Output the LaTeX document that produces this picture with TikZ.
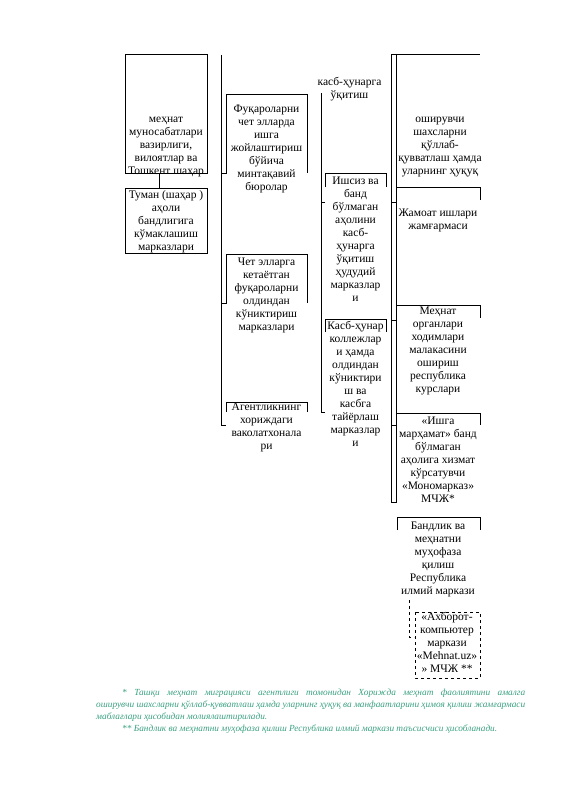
\documentclass[tikz,border=0pt]{standalone}
\usepackage{fontspec}
\setmainfont{Liberation Serif}
\definecolor{notegreen}{HTML}{3AA080}
\tikzset{
  boxtext/.style={anchor=north,align=center,inner sep=0pt,font=\fontsize{11.5}{13}\selectfont},
  frame/.style={line width=0.8pt},
}

\begin{document}
\begin{tikzpicture}[x=1pt,y=-1pt]
        \useasboundingbox (0,0) rectangle (565,800);

        \draw[frame] (125,54) rectangle (207,173);
        \node[boxtext] (ministry) at (166,116.5) {меҳнат\\муносабатлари\\вазирлиги,\\вилоятлар ва\\Тошкент шаҳар};
        \coordinate (ministrybot) at (159,173);
        \coordinate (districttop) at (159,188);
        \draw[frame] (ministrybot) -- (districttop);
        \draw[frame] (125,188) rectangle (207,253);
        \node[boxtext] (district) at (166,190) {Туман (шаҳар )\\аҳоли\\бандлигига\\кўмаклашиш\\марказлари};

        \draw[frame] (221,55) -- (221,425) -- (226,425);
        \draw[frame] (221,173) -- (226,173) -- (226,94) -- (307,94) -- (307,173);
        \draw[frame] (221,303) -- (226,303) -- (226,254) -- (307,254) -- (307,303);
        \draw[frame] (226,412) -- (226,402) -- (307,402) -- (307,412);
        \node[boxtext] (bureaus) at (266.5,104.5) {Фуқароларни\\чет элларда\\ишга\\жойлаштириш\\бўйича\\минтақавий\\бюролар};
        \node[boxtext] (prepcentres) at (266.5,257.5) {Чет элларга\\кетаётган\\фуқароларни\\олдиндан\\кўниктириш\\марказлари};
        \node[boxtext] (agencyabroad) at (266.5,402.5) {Агентликнинг\\хориждаги\\ваколатхонала\\ри};

        \node[boxtext] (training) at (349.5,77.5) {касб-ҳунарга\\ўқитиш};
        \draw[frame] (321,93) -- (321,412) -- (325,412);
        \draw[frame] (321,202) -- (325,202);
        \draw[frame] (325,187) -- (325,173) -- (386,173) -- (386,187);
        \draw[frame] (325,332) -- (325,319) -- (386,319) -- (386,332);
        \node[boxtext] (regional) at (355.5,176.5) {Ишсиз ва\\банд\\бўлмаган\\аҳолини\\касб-\\ҳунарга\\ўқитиш\\ҳудудий\\марказлар\\и};
        \node[boxtext] (colleges) at (355.5,321.5) {Касб-ҳунар\\коллежлар\\и ҳамда\\олдиндан\\кўниктири\\ш ва\\касбга\\тайёрлаш\\марказлар\\и};

        \draw[frame] (391,502) -- (391,54) -- (480,54);
        \draw[frame] (396,54) -- (396,502) -- (391,502);
        \draw[frame] (391,202) -- (396,202);
        \draw[frame] (391,320) -- (396,320);
        \draw[frame] (391,425) -- (396,425);
        \draw[frame] (396,187) -- (480,187) -- (480,200);
        \draw[frame] (396,305) -- (480,305) -- (480,318);
        \draw[frame] (396,413) -- (480,413) -- (480,425);
        \draw[frame] (397,530) -- (397,517) -- (480,517) -- (480,530);
        \node[boxtext] (fund) at (440,116.5) {оширувчи\\шахсларни\\қўллаб-\\қувватлаш ҳамда\\уларнинг ҳуқуқ};
        \node[boxtext] (publicworks) at (438,208.5) {Жамоат ишлари\\жамғармаси};
        \node[boxtext] (courses) at (438,306.5) {Меҳнат\\органлари\\ходимлари\\малакасини\\ошириш\\республика\\курслари};
        \node[boxtext] (monocentre) at (438,416.5) {«Ишга\\марҳамат» банд\\бўлмаган\\аҳолига хизмат\\кўрсатувчи\\«Мономарказ»\\МЧЖ*};
        \node[boxtext] (institute) at (438,521.5) {Бандлик ва\\меҳнатни\\муҳофаза\\қилиш\\Республика\\илмий маркази};

        \draw[frame,dashed] (409,600) -- (409,637) -- (414,637);
        \draw[frame,dashed] (415,612) rectangle (480,678);
        \node[boxtext] (infocentre) at (447,612.5) {«Ахборот-\\компьютер\\маркази\\«Mehnat.uz»\\» МЧЖ **};

        \node[anchor=north west,text width=429pt,align=justify,inner sep=0pt,text=notegreen,
          font=\fontsize{9.3}{12}\selectfont\itshape] (notes) at (96,689)
          {\hyphenpenalty=10000\spaceskip=0.25em plus 0.4em minus 0.1em
          \hspace*{26pt}* Ташқи меҳнат миграцияси агентлиги томонидан Хорижда меҳнат фаолиятини амалга\linebreak
          оширувчи шахсларни қўллаб-қувватлаш ҳамда уларнинг ҳуқуқ ва манфаатларини ҳимоя қилиш жамғармаси\linebreak
          маблағлари ҳисобидан молиялаштирилади.\par
          \hspace*{26pt}** Бандлик ва меҳнатни муҳофаза қилиш Республика илмий маркази таъсисчиси ҳисобланади.};
      \end{tikzpicture}
\end{document}
